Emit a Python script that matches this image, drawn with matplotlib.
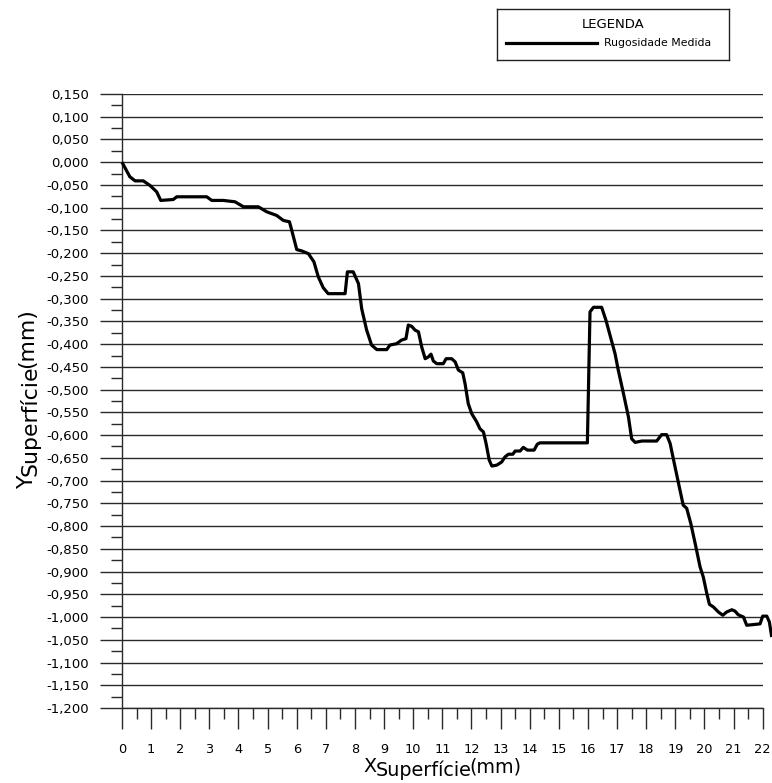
import numpy as np
import matplotlib
matplotlib.use("Agg")
import matplotlib.pyplot as plt
from matplotlib.ticker import MultipleLocator, FixedLocator

plt.rcParams['font.family'] = ['DejaVu Sans']

# measured surface profile (x in mm, y in mm)
x_mm = [0.00, 0.27, 0.45, 0.73, 0.96, 1.19, 1.33, 1.76, 1.88, 2.91,
        3.08, 3.48, 3.88, 4.17, 4.68, 4.97, 5.31, 5.54, 5.75, 5.83,
        6.00, 6.17, 6.40, 6.59, 6.74, 6.91, 7.08, 7.66, 7.74, 7.94,
        8.12, 8.23, 8.40, 8.57, 8.75, 9.09, 9.20, 9.43, 9.60, 9.75,
        9.83, 9.95, 10.06, 10.18, 10.29, 10.41, 10.52, 10.61, 10.69, 10.81,
        11.03, 11.13, 11.32, 11.44, 11.55, 11.70, 11.78, 11.89, 12.01, 12.18,
        12.29, 12.41, 12.50, 12.61, 12.70, 12.87, 13.04, 13.15, 13.27, 13.42,
        13.50, 13.67, 13.78, 13.92, 14.15, 14.26, 14.35, 15.98, 16.07, 16.19,
        16.47, 16.62, 16.76, 16.93, 17.04, 17.22, 17.39, 17.50, 17.62, 17.85,
        18.36, 18.53, 18.70, 18.82, 18.99, 19.16, 19.27, 19.39, 19.53, 19.68,
        19.85, 19.96, 20.08, 20.17, 20.31, 20.48, 20.63, 20.76, 20.94, 21.05,
        21.16, 21.34, 21.45, 21.62, 21.91, 22.00, 22.14, 22.23, 22.31]
y_mm = [0.000, -0.032, -0.041, -0.041, -0.051, -0.065, -0.084, -0.082, -0.076, -0.076,
        -0.084, -0.084, -0.087, -0.098, -0.098, -0.109, -0.117, -0.128, -0.131, -0.150,
        -0.192, -0.195, -0.201, -0.219, -0.252, -0.276, -0.289, -0.289, -0.241, -0.241,
        -0.267, -0.322, -0.369, -0.402, -0.412, -0.412, -0.402, -0.399, -0.391, -0.388,
        -0.358, -0.361, -0.369, -0.373, -0.406, -0.432, -0.428, -0.422, -0.437, -0.443,
        -0.443, -0.432, -0.432, -0.439, -0.457, -0.463, -0.487, -0.531, -0.553, -0.571,
        -0.586, -0.593, -0.618, -0.655, -0.668, -0.666, -0.659, -0.648, -0.642, -0.642,
        -0.635, -0.635, -0.627, -0.633, -0.633, -0.620, -0.617, -0.617, -0.329, -0.319,
        -0.319, -0.348, -0.381, -0.421, -0.457, -0.509, -0.560, -0.608, -0.616, -0.613,
        -0.613, -0.599, -0.599, -0.618, -0.670, -0.721, -0.754, -0.761, -0.794, -0.838,
        -0.890, -0.912, -0.948, -0.972, -0.978, -0.989, -0.996, -0.989, -0.984, -0.987,
        -0.995, -1.000, -1.018, -1.017, -1.015, -0.998, -0.998, -1.011, -1.044]

y_ticks = np.round(np.arange(-1.2, 0.1501, 0.05), 3)
x_ticks = np.arange(0, 23)

W, H = 772, 783
fig = plt.figure(figsize=(W / 100, H / 100), dpi=100)
ax = fig.add_axes([122 / W, 1 - 708 / H, (762.7 - 122) / W, (708 - 94) / H])

ax.plot(x_mm, y_mm, color='black', lw=2.3, solid_joinstyle='round',
        solid_capstyle='butt', clip_on=False, zorder=5)

ax.set_xlim(0, 22)
ax.set_ylim(-1.2, 0.15)

ax.yaxis.set_major_locator(FixedLocator(y_ticks))
ax.yaxis.set_minor_locator(MultipleLocator(0.025))
ax.set_yticklabels([f"{v:.3f}".replace('.', ',').replace('-0,000', '0,000')
                    for v in y_ticks])
ax.xaxis.set_major_locator(FixedLocator(x_ticks))
ax.xaxis.set_minor_locator(MultipleLocator(0.5))
ax.set_xticklabels([str(v) for v in x_ticks])

ax.yaxis.grid(True, which='major', color='#2a2a2a', lw=1.0)
ax.tick_params(axis='y', which='major', direction='out', length=16,
               width=1.0, color='#2a2a2a', pad=8, labelsize=9.5)
ax.tick_params(axis='y', which='minor', direction='out', length=8,
               width=1.0, color='#2a2a2a')
ax.tick_params(axis='x', which='major', direction='out', length=15,
               width=1.0, color='#2a2a2a', pad=10, labelsize=9.3)
ax.tick_params(axis='x', which='minor', direction='out', length=8,
               width=1.0, color='#2a2a2a')

for s in ('top', 'right'):
    ax.spines[s].set_visible(False)
for s in ('left', 'bottom'):
    ax.spines[s].set_color('#2a2a2a')
    ax.spines[s].set_linewidth(1.0)


def split_label(x0, y0, parts, size, rotation=0):
    # draw a label made of pieces; each piece: (text, baseline shift, kern)
    fig.canvas.draw()
    r = fig.canvas.get_renderer()
    pos = x0 if rotation == 0 else y0
    for txt, shift, kern in parts:
        if rotation == 0:
            t = fig.text(pos / W, 1 - (y0 + shift) / H, txt, fontsize=size,
                         ha='left', va='baseline')
            pos += t.get_window_extent(r).width + kern
        else:
            t = fig.text((x0 + shift) / W, 1 - pos / H, txt, fontsize=size,
                         rotation=90, ha='left', va='baseline',
                         rotation_mode='anchor')
            pos -= t.get_window_extent(r).height + kern


split_label(363, 772.5, [('X', 0, 0), ('Superfície', 3, -3), ('(mm)', 0, 0)],
            13.8)
split_label(33, 489, [('Y', 0, 0), ('Superfície', 3, -3), ('(mm)', 0, 0)],
            15.8, rotation=90)

# legend box
lax = fig.add_axes([497 / W, 1 - 60 / H, (729 - 497) / W, (60 - 9) / H])
lax.set_xlim(0, 1)
lax.set_ylim(0, 1)
lax.set_xticks([])
lax.set_yticks([])
for s in lax.spines.values():
    s.set_linewidth(1.0)
    s.set_color('#222222')
lax.text(0.5, 0.69, 'LEGENDA', ha='center', va='center', fontsize=9.5)
lax.plot([0.04, 0.43], [0.33, 0.33], color='black', lw=2.3)
lax.text(0.46, 0.33, 'Rugosidade Medida', ha='left', va='center', fontsize=7.8)

fig.savefig('out.png', dpi=100)
